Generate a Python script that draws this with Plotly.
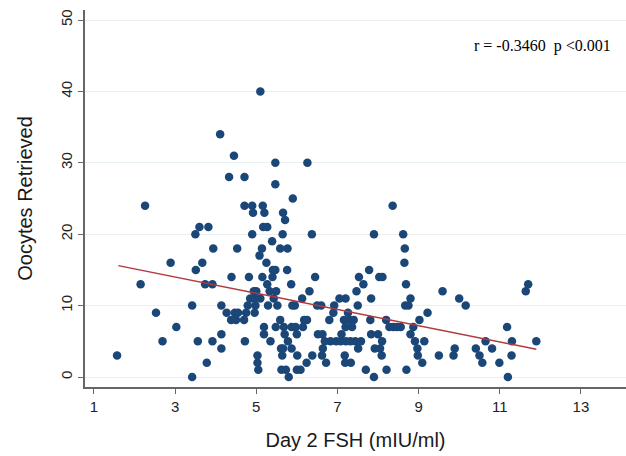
import plotly.graph_objects as go

# Day 2 FSH (mIU/ml) and number of oocytes retrieved per cycle
fsh = [1.57, 2.15, 2.26, 2.53, 2.69, 2.89, 3.03, 3.42, 3.42, 3.50, 3.51, 3.56, 3.60, 3.67,
       3.74, 3.78, 3.82, 3.92, 3.94, 3.92, 4.11, 4.14, 4.14, 4.14, 4.33, 4.27, 4.39, 4.38,
       4.47, 4.45, 4.53, 4.50, 4.55, 4.70, 4.71, 4.71, 4.72, 4.75, 4.79, 4.82, 4.90, 4.92,
       4.90, 4.94, 4.96, 4.96, 4.98, 5.03, 5.03, 5.05, 5.10, 5.08, 5.10, 5.14, 5.16, 5.17,
       5.20, 5.15, 5.19, 5.19, 5.27, 5.25, 5.27, 5.29, 5.35, 5.39, 5.40, 5.41, 5.43, 5.47,
       5.47, 5.47, 5.49, 5.48, 5.52, 5.59, 5.61, 5.62, 5.66, 5.65, 5.64, 5.66, 5.68, 5.70,
       5.71, 5.73, 5.76, 5.77, 5.78, 5.80, 5.59, 5.86, 5.87, 5.87, 5.90, 5.89, 5.95, 5.97,
       6.00, 6.00, 6.01, 6.09, 6.13, 6.18, 6.24, 6.26, 6.25, 6.31, 6.37, 6.38, 6.45, 6.50,
       6.52, 6.60, 6.62, 6.63, 6.64, 6.69, 6.72, 6.80, 6.83, 6.92, 6.97, 7.05, 7.08, 7.16,
       7.18, 7.19, 7.20, 7.20, 7.21, 7.26, 7.30, 7.33, 7.36, 7.32, 7.40, 7.44, 7.47, 7.50,
       7.51, 7.53, 7.58, 7.64, 7.70, 7.78, 7.81, 7.83, 7.83, 7.90, 7.90, 7.92, 8.00, 8.03,
       8.05, 8.10, 8.11, 8.09, 8.20, 8.21, 8.28, 8.36, 8.38, 8.47, 8.56, 8.62, 8.66, 8.65,
       8.69, 8.67, 8.70, 8.75, 8.80, 8.80, 8.87, 8.91, 8.97, 8.98, 9.02, 9.09, 9.14, 9.22,
       9.50, 9.59, 9.86, 9.89, 10.00, 10.16, 10.41, 10.50, 10.57, 10.65, 10.81, 10.99, 11.18,
       11.20, 11.30, 11.29, 11.64, 11.70, 11.90,
       4.85, 5.00, 5.33, 6.15, 6.90, 7.10]
oocytes = [3, 13, 24, 9, 5, 16, 7, 10, 0, 20, 15, 5, 21, 16,
           13, 2, 21, 13, 18, 5, 34, 10, 6, 4, 28, 9, 14, 8,
           9, 31, 18, 8, 9, 8, 28, 24, 5, 9, 10, 14, 24, 23,
           20, 12, 11, 9, 10, 3, 2, 1, 40, 17, 11, 18, 24, 21,
           23, 14, 7, 6, 21, 16, 13, 10, 5, 19, 14, 15, 11, 30,
           27, 15, 12, 7, 10, 8, 4, 1, 23, 20, 3, 4, 7, 6,
           22, 1, 15, 18, 5, 0, 18, 13, 7, 4, 25, 10, 10, 7,
           6, 1, 3, 1, 11, 8, 2, 30, 8, 12, 20, 3, 14, 10,
           6, 10, 3, 6, 4, 5, 2, 8, 5, 10, 5, 11, 5, 8,
           3, 2, 11, 7, 5, 9, 8, 2, 7, 5, 8, 5, 12, 10,
           4, 14, 5, 13, 1, 15, 8, 11, 6, 20, 0, 4, 6, 14,
           4, 5, 14, 3, 8, 1, 7, 24, 7, 7, 7, 20, 18, 16,
           13, 10, 1, 10, 11, 6, 7, 5, 4, 3, 8, 2, 5, 9,
           3, 12, 3, 4, 11, 10, 4, 3, 2, 5, 4, 2, 7,
           0, 5, 3, 12, 13, 5,
           11, 12, 12, 7, 9, 6]

# Fitted linear trend, start and end points
fit_x = [1.6, 11.9]
fit_y = [15.6, 3.9]

x_ticks = [1, 3, 5, 7, 9, 11, 13]
y_ticks = [0, 10, 20, 30, 40, 50]

fig = go.Figure()
fig.add_trace(go.Scatter(
    x=fsh, y=oocytes, mode="markers",
    marker=dict(color="#1b4778", size=8.5, line=dict(width=0)),
    showlegend=False, hoverinfo="x+y",
))
fig.add_trace(go.Scatter(
    x=fit_x, y=fit_y, mode="lines",
    line=dict(color="#b2383c", width=1.5),
    showlegend=False,
))

sans = "Liberation Sans, Arial, sans-serif"
axis_font = dict(family=sans, size=15, color="#222222")
fig.update_layout(
    width=626, height=456,
    margin=dict(l=85, r=0, t=10, b=69),
    paper_bgcolor="white", plot_bgcolor="white",
    xaxis=dict(
        range=[0.78, 14.11], tickvals=x_ticks, ticks="outside", ticklen=5,
        tickcolor="#666666", showline=True, linecolor="#666666", linewidth=1.5,
        showgrid=False, zeroline=False, tickfont=axis_font,
        title=dict(text="Day 2 FSH (mIU/ml)", standoff=19,
                   font=dict(family=sans, size=20, color="#1a1a1a")),
    ),
    yaxis=dict(
        range=[-1.4, 51.4], tickvals=y_ticks, ticks="outside", ticklen=5,
        tickcolor="#666666", showline=True, linecolor="#666666", linewidth=1.5,
        showgrid=True, gridcolor="#e8f0f2", gridwidth=1, zeroline=False,
        tickangle=-90, tickfont=axis_font,
        title=dict(text="Oocytes Retrieved", standoff=20,
                   font=dict(family=sans, size=20, color="#1a1a1a")),
    ),
    annotations=[dict(
        text="r = -0.3460  p &lt;0.001", xref="paper", yref="paper",
        x=0.976, y=0.905, xanchor="right", yanchor="middle", showarrow=False,
        font=dict(family="Liberation Serif, Times New Roman, serif", size=16, color="#000000"),
    )],
)

fig.write_html("out.html")
